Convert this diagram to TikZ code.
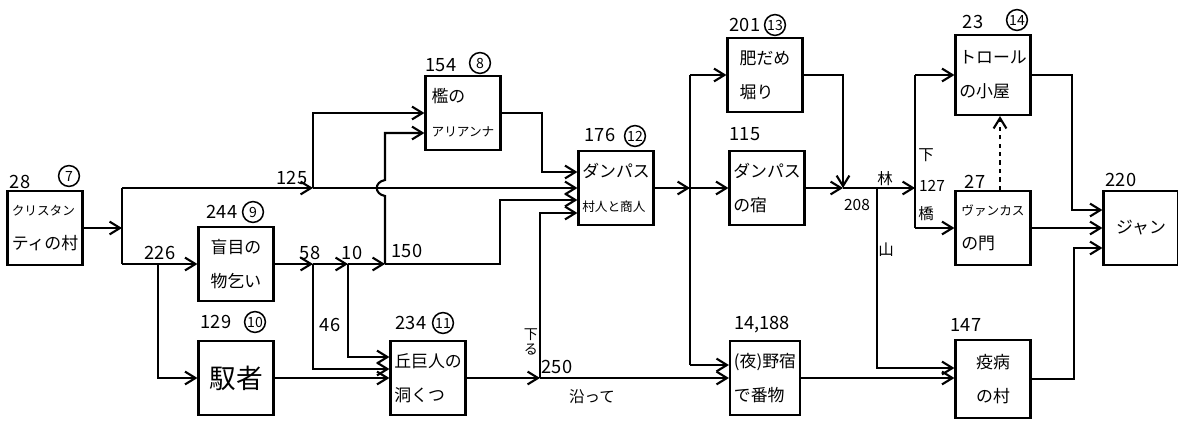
\documentclass[tikz,border=0pt]{standalone}
\usepackage{fontspec}
\setmainfont{Noto Sans CJK JP}
\def\chapno#1#2#3{
	\node [circ] (#1) at (#2) {#3};
}
\usetikzlibrary{arrows.meta,calc}

\begin{document}
\begin{tikzpicture}[x=0.025cm,y=-0.025cm,line width=1.5pt,
	box/.style={draw, minimum width=1.875cm, minimum height=1.85cm,
		inner sep=2pt, align=left, font=\fontsize{12}{24}\selectfont},
	arr/.style={-{Straight Barb[length=2.6mm,width=3.2mm]}},
	num/.style={font=\fontsize{13}{13}\selectfont, inner sep=1pt},
	circ/.style={draw, circle, line width=1.1pt, inner sep=0pt,
		minimum size=0.52cm, font=\fontsize{10}{10}\selectfont},
	kan/.style={font=\fontsize{11}{13}\selectfont, inner sep=1pt, align=center},
	]
	\useasboundingbox (0,0) rectangle (1178,429);

	% the places
	\node[box] (crys) at (45,228) {\fontsize{9}{24}\selectfont クリスタン\\ティの村};
	\node[box] (beggar) at (236,264) {盲目の\\物乞い};
	\node[box, font=\fontsize{19}{24}\selectfont] (coach) at (236,378) {馭者};
	\node[box] (giant) at (428,378) {丘巨人の\\洞くつ};
	\node[box] (ariana) at (463,113) {檻の\\\fontsize{9}{24}\selectfont アリアンナ};
	\node[box] (dampas) at (616,188) {ダンパス\\\fontsize{9}{24}\selectfont 村人と商人};
	\node[box] (dung) at (765,75) {肥だめ\\堀り};
	\node[box] (inn) at (767,188) {ダンパス\\の宿};
	\node[box, minimum width=1.75cm] (camp) at (765,378) {(夜)野宿\\で番物};
	\node[box, minimum height=2cm] (troll) at (993,75) {トロール\\の小屋};
	\node[box] (gate) at (993,228) {\fontsize{9}{24}\selectfont ヴァンカス\\の門};
	\node[box] (jann) at (1141,228) {ジャン};
	\node[box, minimum height=1.95cm] (plague) at (993,379) {疫病\\の村};

	% page numbers and section numbers
	\node[num] (n28) at (20,182) {28};
	\node[num] (n244) at (222,212) {244};
	\node[num] (n129) at (216,322) {129};
	\node[num] (n234) at (411,323) {234};
	\node[num] (n154) at (441,65) {154};
	\node[num] (n176) at (600,135) {176};
	\node[num] (n201) at (745,25) {201};
	\node[num] (n115) at (745,134) {115};
	\node[num] (n14188) at (762,325) {14,188};
	\node[num] (n23) at (973,22) {23};
	\node[num] (n27) at (975,182) {27};
	\node[num] (n220) at (1121,180) {220};
	\node[num] (n147) at (966,325) {147};
	\chapno{c7}{69,176}{7}
	\chapno{c9}{253,212}{9}
	\chapno{c10}{255,322}{10}
	\chapno{c11}{443,323}{11}
	\chapno{c8}{480,63}{8}
	\chapno{c12}{635,136}{12}
	\chapno{c13}{775,25}{13}
	\chapno{c14}{1017,20}{14}

	% junctions
	\coordinate (s1) at (122,228);
	\coordinate (s1t) at (122,188);
	\coordinate (s1b) at (122,264);
	\coordinate (j226) at (158,264);
	\coordinate (j125) at (313,188);
	\coordinate (j58) at (313,264);
	\coordinate (j10) at (348,264);
	\coordinate (j150) at (385,264);
	\coordinate (j250) at (540,378);
	\coordinate (s2) at (690,188);
	\coordinate (s2t) at (690,75);
	\coordinate (s2b) at (690,365);
	\coordinate (j208) at (843,188);
	\coordinate (jmtn) at (877,188);
	\coordinate (s3) at (915,188);
	\coordinate (s3t) at (915,75);
	\coordinate (s3b) at (915,228);

	\draw[arr] (crys) -- (s1);
	\draw (s1t) -- (s1b);
	\draw[arr] (s1b) -- (beggar);
	\draw[arr] (j226) |- (coach);
	\draw[arr] (s1t) -- (j125);
	\draw[arr] (j125) -- (j125 -| dampas.west);
	\draw[arr] (j125) |- (ariana);
	\draw[arr] (beggar) -- (j58);
	\draw[arr] (j58) -- (j10);
	\draw[arr] (j10) -- (j150);
	\draw[arr] (j150) -- ++(115,0) |- ($(dampas.west)+(0,12)$);
	\draw[arr] (j150) -- (385,196) .. controls (374,194) and (374,182) .. (385,180)
		|- ($(ariana.west)+(0,20)$);
	\draw[arr] (ariana.east) -- ++(40,0) |- ($(dampas.west)+(0,-16)$);
	\draw[arr] (j58) |- ($(giant.west)+(0,-9)$);
	\draw[arr] (j10) |- ($(giant.west)+(0,-21)$);
	\draw[arr] (coach) -- (giant);
	\draw[arr] (giant) -- (j250);
	\draw[arr] (j250) -- (camp);
	\draw[arr] (j250) |- ($(dampas.west)+(0,25)$);
	\draw[arr] (dampas) -- (s2);
	\draw (s2t) -- (s2b);
	\draw[arr] (s2t) -- (dung);
	\draw[arr] (s2) -- (inn);
	\draw[arr] (s2b) -- (s2b -| camp.west);
	\draw[arr] (inn) -- (j208);
	\draw[arr] (dung) -| (j208);
	\draw[arr] (j208) -- (s3);
	\draw[arr] (jmtn) |- ($(plague.west)+(0,-11)$);
	\draw[arr] (camp) -- (camp -| plague.west);
	\draw (s3t) -- (s3b);
	\draw[arr] (s3t) -- (troll);
	\draw[arr] (s3b) -- (gate);
	\draw[arr, dashed] ($(gate.north)+(7,0)$) -- ($(troll.south)+(7,0)$);
	\draw[arr] (troll.east) -- ++(40,0) |- ($(jann.west)+(0,-18)$);
	\draw[arr] (gate) -- (jann);
	\draw[arr] (plague.east) -- ++(42,0) |- ($(jann.west)+(0,20)$);

	% labels on the way
	\node[num] (l125) at (292,178) {125};
	\node[num] (l226) at (160,253) {226};
	\node[num] (l58) at (310,253) {58};
	\node[num] (l10) at (352,253) {10};
	\node[num] (l150) at (407,251) {150};
	\node[num] (l46) at (330,325) {46};
	\node[num] (l250) at (557,367) {250};
	\node[kan] (lalong) at (592,397) {沿って};
	\node[kan, font=\fontsize{10}{11}\selectfont] (ldown) at (531,342) {下\\る};
	\node[num, font=\fontsize{11}{11}\selectfont] (l208) at (857,205) {208};
	\node[kan] (lwood) at (885,179) {林};
	\node[kan] (lmtn) at (886,250) {山};
	\node[kan] (lbelow) at (926,155) {下};
	\node[num, font=\fontsize{11}{11}\selectfont] (l127) at (932,186) {127};
	\node[kan] (lbridge) at (926,214) {橋};
\end{tikzpicture}
\end{document}
